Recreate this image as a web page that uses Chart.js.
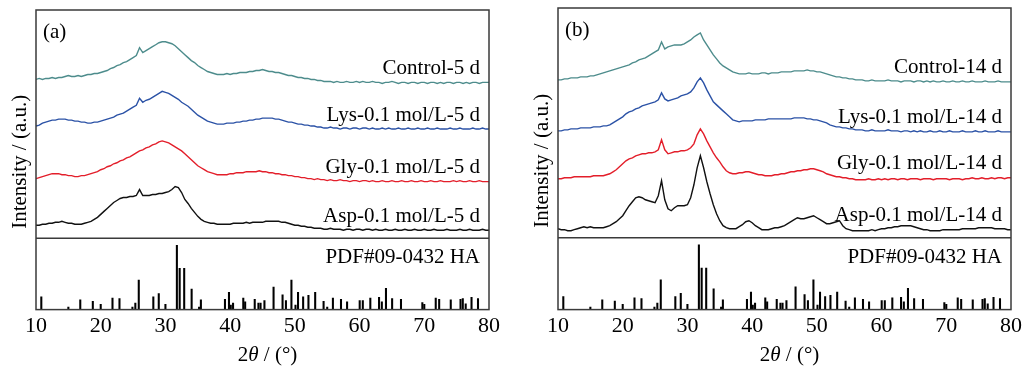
<!DOCTYPE html>
<html>
<head>
<meta charset="utf-8">
<script src="https://cdn.jsdelivr.net/npm/chart.js@4.4.1/dist/chart.umd.min.js"></script>
<style>
  html, body { margin: 0; padding: 0; background: #fff; }
  #wrap { position: relative; width: 1025px; height: 370px; }
  canvas { position: absolute; top: 0; }
</style>
</head>
<body>
<div id="wrap">
  <canvas id="panelA" width="512" height="370" style="left:0"></canvas>
  <canvas id="panelB" width="513" height="370" style="left:512px"></canvas>
</div>
<script>
// 2theta grid (deg)
const angles = [
  10,10.5,11,11.5,12,12.5,13,13.5,14,14.5,
  15,15.5,16,16.5,17,17.5,18,18.5,19,19.5,
  20,20.5,21,21.5,22,22.5,23,23.5,24,24.5,
  25,25.5,26,26.5,27,27.5,28,28.5,29,29.5,
  30,30.5,31,31.5,32,32.5,33,33.5,34,34.5,
  35,35.5,36,36.5,37,37.5,38,38.5,39,39.5,
  40,40.5,41,41.5,42,42.5,43,43.5,44,44.5,
  45,45.5,46,46.5,47,47.5,48,48.5,49,49.5,
  50,50.5,51,51.5,52,52.5,53,53.5,54,54.5,
  55,55.5,56,56.5,57,57.5,58,58.5,59,59.5,
  60,60.5,61,61.5,62,62.5,63,63.5,64,64.5,
  65,65.5,66,66.5,67,67.5,68,68.5,69,69.5,
  70,70.5,71,71.5,72,72.5,73,73.5,74,74.5,
  75,75.5,76,76.5,77,77.5,78,78.5,79,79.5,
  80
];

const names5 = ['Control-5 d', 'Lys-0.1 mol/L-5 d', 'Gly-0.1 mol/L-5 d', 'Asp-0.1 mol/L-5 d'];
const names14 = ['Control-14 d', 'Lys-0.1 mol/L-14 d', 'Gly-0.1 mol/L-14 d', 'Asp-0.1 mol/L-14 d'];

// stacked intensities (a.u., offset already applied)
const control5 = [
  160,161,160,161,161,162,161,162,162,163,
  164,163,163,164,163,164,165,165,166,166,
  167,168,169,171,172,174,175,177,178,180,
  182,184,192,187,189,191,193,195,197,198,
  198,197,196,194,191,188,185,182,179,177,
  174,172,170,168,167,166,165,165,165,166,
  165,166,166,167,167,167,168,168,169,169,
  170,169,168,168,167,167,166,165,164,164,
  163,162,162,161,161,160,160,159,159,158,
  158,158,157,158,157,157,158,157,157,158,
  157,158,157,157,158,157,157,156,157,157,
  158,157,156,157,157,156,157,157,156,157,
  157,156,157,157,156,157,156,157,157,156,
  157,157,156,157,156,157,157,156,157,157,
  157
];
const lys5 = [
  113,114,116,117,118,119,119,120,120,120,
  119,119,118,118,117,117,116,116,117,117,
  118,119,120,121,122,124,125,126,128,130,
  132,134,141,137,139,140,142,144,146,148,
  147,146,144,142,140,137,135,133,130,127,
  124,122,120,118,117,116,115,115,115,116,
  116,116,117,117,118,118,119,119,120,120,
  121,121,121,121,120,120,119,118,117,117,
  116,115,115,114,114,113,113,112,112,111,
  111,112,111,111,110,111,111,110,111,111,
  110,111,111,110,111,110,110,111,110,111,
  110,110,111,110,110,111,110,110,111,110,
  110,111,110,110,111,110,110,110,111,110,
  110,111,110,110,110,111,110,110,111,110,
  110
];
const gly5 = [
  60,61,62,63,64,65,65,65,64,64,
  63,63,62,62,63,63,64,65,66,67,
  69,70,72,73,75,76,78,79,81,82,
  84,86,88,89,91,92,94,95,97,98,
  97,96,94,92,90,88,85,82,79,76,
  73,71,69,67,66,65,64,64,64,64,
  65,65,66,66,66,67,67,67,67,68,
  67,67,66,66,65,65,64,64,63,63,
  62,62,61,61,60,60,59,60,59,59,
  58,59,58,58,59,58,58,57,58,58,
  57,58,58,57,58,57,57,58,57,57,
  58,57,57,58,57,57,58,57,57,58,
  57,57,58,57,57,58,57,57,57,58,
  57,58,57,57,58,57,57,58,57,57,
  57
];
const asp5 = [
  13,13,14,14,15,15,16,16,17,16,
  15,15,14,14,14,15,16,17,19,21,
  24,27,30,33,36,38,40,41,41,42,
  42,43,49,43,43,43,44,44,45,45,
  46,47,49,52,51,46,39,35,30,26,
  22,19,17,16,15,15,14,14,14,14,
  14,15,15,15,15,16,15,16,16,16,
  16,17,17,17,17,17,16,16,15,14,
  13,13,12,12,11,11,10,10,10,9,
  9,10,9,9,9,8,9,9,8,9,
  9,8,9,9,8,9,8,8,9,8,
  8,9,8,8,9,8,8,9,8,8,
  9,8,8,9,8,8,8,9,8,8,
  8,9,8,8,9,8,8,8,9,8,
  8
];
const control14 = [
  158,158,159,159,160,160,160,161,161,161,
  162,162,163,164,165,166,167,168,169,170,
  171,172,173,175,176,178,179,180,182,184,
  186,188,196,189,191,192,193,193,193,194,
  196,198,201,203,205,198,193,188,183,179,
  175,172,170,168,166,165,164,164,164,165,
  164,164,164,165,165,164,165,165,165,166,
  166,166,166,167,167,167,167,168,167,167,
  166,166,165,164,163,162,161,161,160,160,
  159,159,158,158,158,157,157,158,157,157,
  157,157,158,157,157,157,156,157,157,157,
  156,157,157,156,157,156,157,156,156,157,
  156,156,157,156,156,157,156,156,157,156,
  156,156,157,156,156,156,157,156,156,156,
  156
];
const lys14 = [
  107,107,108,108,109,109,109,110,110,110,
  110,111,111,111,112,112,113,115,117,119,
  121,124,126,127,129,130,132,133,134,135,
  136,138,145,139,137,138,139,140,142,143,
  144,146,150,156,160,155,148,142,136,133,
  130,127,124,121,118,117,116,117,117,117,
  117,118,118,118,118,119,119,119,119,119,
  119,119,119,120,120,120,120,119,119,118,
  118,117,116,115,113,112,111,111,110,110,
  109,109,108,108,108,107,107,108,107,107,
  107,107,108,107,107,107,106,107,107,106,
  107,106,107,106,106,107,106,106,107,106,
  106,107,106,106,106,107,106,106,106,107,
  106,106,107,106,106,106,107,106,106,106,
  106
];
const gly14 = [
  59,59,60,60,60,61,61,61,61,61,
  61,62,62,62,62,63,64,66,68,71,
  74,77,79,80,82,83,84,84,85,85,
  86,88,98,88,84,85,86,86,87,87,
  88,90,94,103,109,104,97,91,85,80,
  76,71,67,65,64,64,65,65,66,66,
  65,64,63,63,62,62,62,63,63,64,
  64,65,66,66,67,67,68,68,69,69,
  68,67,66,64,63,62,61,61,60,60,
  59,59,58,58,58,58,59,58,58,59,
  58,59,58,59,59,58,59,59,58,59,
  59,59,58,59,59,59,58,59,59,59,
  59,58,59,59,59,58,59,59,60,59,
  59,60,59,59,60,59,60,60,59,60,
  60
];
const asp14 = [
  9,8,8,7,7,8,9,10,11,10,
  11,10,10,10,10,11,12,14,16,19,
  22,27,32,36,40,41,40,38,37,36,
  35,42,57,38,29,27,30,32,32,32,
  33,40,53,70,82,70,56,44,33,24,
  17,12,10,9,9,9,11,13,16,17,
  15,12,10,8,8,8,9,10,10,11,
  12,14,16,18,20,19,19,20,21,22,
  20,18,16,14,14,15,16,17,12,9,
  8,7,7,7,7,7,7,8,7,8,
  9,9,10,10,11,11,12,12,12,12,
  11,10,9,8,8,7,7,7,7,8,
  8,8,8,8,8,9,9,9,9,9,
  10,10,10,10,10,9,9,9,9,8,
  8
];

// PDF#09-0432 hydroxyapatite reference lines
const refAngles = [
  10.82,15.0,16.84,18.78,20.0,21.82,22.9,24.9,25.35,25.88,
  28.13,28.97,30.0,31.77,32.2,32.9,34.05,35.2,35.48,39.2,
  39.82,40.1,40.45,42.03,42.32,43.8,44.37,44.7,45.3,46.71,
  48.1,48.62,49.47,50.1,50.49,51.28,52.1,53.14,54.44,55.0,
  55.88,57.13,58.07,60.02,60.5,61.66,63.01,63.44,64.08,65.03,
  66.4,69.7,70.0,71.77,72.3,74.09,75.6,75.95,76.4,77.3,
  78.3
];
const refIntensity = [
  20,4,15,13,8,18,17,4,10,46,
  20,25,8,100,64,64,32,4,15,16,
  27,7,10,18,12,16,10,10,14,35,
  23,14,46,7,27,20,22,27,13,4,
  18,16,12,14,14,18,19,12,33,17,
  16,11,8,18,16,15,16,17,9,19,
  17
];
const refName = 'PDF#09-0432 HA';

const lineColors = ['#4d8c8c', '#2b52a6', '#e31e2a', '#111111'];
const FONT = "'Liberation Serif', 'Times New Roman', serif";

function decor(tag) {
  return {
    id: 'decor',
    afterDraw(chart) {
      const { ctx, chartArea: a, scales } = chart;
      const y = scales.y, yh = scales.yh;
      ctx.save();
      ctx.strokeStyle = '#3a3a3a';
      ctx.lineWidth = 1.5;
      ctx.strokeRect(a.left, a.top, a.right - a.left, a.bottom - a.top);
      ctx.beginPath();
      ctx.moveTo(a.left, y.bottom);
      ctx.lineTo(a.right, y.bottom);
      ctx.stroke();

      ctx.fillStyle = '#000';
      ctx.font = '21px ' + FONT;
      ctx.textBaseline = 'middle';
      ctx.textAlign = 'left';
      ctx.fillText(tag, a.left + 7, a.top + 22);

      ctx.textAlign = 'right';
      chart.data.datasets.forEach(ds => {
        if (ds.type === 'bar') {
          ctx.fillText(ds.label, a.right - 9, yh.top + 19.5);
          return;
        }
        const last = ds.data[ds.data.length - 1].y;
        ctx.fillText(ds.label, a.right - 9, y.getPixelForValue(last) - 14);
      });

      // y title
      ctx.save();
      ctx.translate(a.left - 15.5, (a.top + a.bottom) / 2 + 2);
      ctx.rotate(-Math.PI / 2);
      ctx.textAlign = 'center';
      ctx.fillText('Intensity / (a.u.)', 0, 0);
      ctx.restore();

      // x title, theta in italics
      const parts = [['2', ''], ['\u03b8', 'italic '], [' / (\u00b0)', '']];
      let w = 0;
      parts.forEach(p => { ctx.font = p[1] + '21px ' + FONT; w += ctx.measureText(p[0]).width; });
      let cx = (a.left + a.right) / 2 + 5 - w / 2;
      ctx.textAlign = 'left';
      parts.forEach(p => {
        ctx.font = p[1] + '21px ' + FONT;
        ctx.fillText(p[0], cx, 355);
        cx += ctx.measureText(p[0]).width;
      });
      ctx.restore();
    }
  };
}

function makePanel(id, tag, names, series, pad) {
  const datasets = series.map((s, i) => ({
    label: names[i],
    data: angles.map((a, k) => ({ x: a, y: s[k] })),
    yAxisID: 'y',
    borderColor: lineColors[i],
    borderWidth: 1.4,
    pointRadius: 0,
    tension: 0,
    fill: false
  }));
  datasets.push({
    type: 'bar',
    label: refName,
    data: refAngles.map((a, k) => ({ x: a, y: refIntensity[k] })),
    yAxisID: 'yh',
    backgroundColor: '#000',
    barThickness: 1.4,
    grouped: false
  });
  return new Chart(document.getElementById(id), {
    type: 'line',
    data: { datasets },
    options: {
      responsive: false,
      animation: false,
      events: [],
      layout: { padding: pad },
      plugins: { legend: { display: false }, tooltip: { enabled: false } },
      scales: {
        x: {
          type: 'linear', min: 10, max: 80, offset: false,
          grid: { display: false, drawTicks: false, offset: false },
          border: { display: false },
          ticks: { stepSize: 10, autoSkip: false, padding: 3, color: '#000', font: { family: FONT, size: 22 } }
        },
        // y on top of the stack (higher weight comes first on the left side)
        y: { display: false, min: 0, max: 230, stack: 'p', stackWeight: 230, weight: 2 },
        yh: { display: false, min: 0, max: 111, stack: 'p', stackWeight: 72, weight: 1 }
      }
    },
    plugins: [decor(tag)]
  });
}

makePanel('panelA', '(a)', names5, [control5, lys5, gly5, asp5], { left: 36, right: 23, top: 10, bottom: 28 });
makePanel('panelB', '(b)', names14, [control14, lys14, gly14, asp14], { left: 46, right: 12, top: 8, bottom: 28 });
</script>
</body>
</html>
